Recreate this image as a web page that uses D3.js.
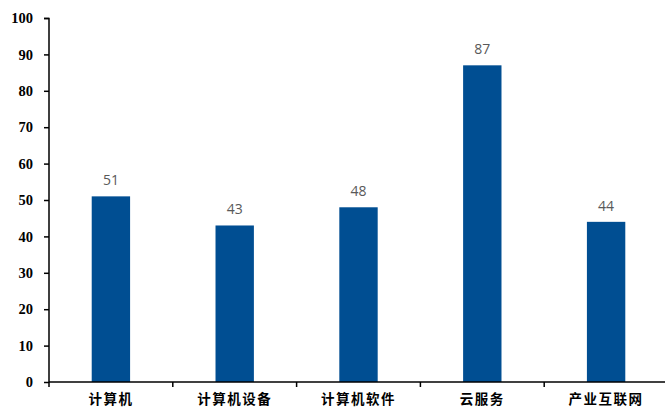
<!DOCTYPE html>
<html>
<head>
<meta charset="utf-8">
<script src="https://cdn.jsdelivr.net/npm/d3@7"></script>
<style>
  body { margin: 0; background: #fff; }
  svg { display: block; }
</style>
</head>
<body>
<div id="chart"></div>
<script>
'use strict';
// Data
var categories = ['计算机', '计算机设备', '计算机软件', '云服务', '产业互联网'];
var values = [51, 43, 48, 87, 44];
var yTicks = [0, 10, 20, 30, 40, 50, 60, 70, 80, 90, 100];

(function() {
	var width = 665, height = 408;
	var margin = {top: 18, right: -3, bottom: 26, left: 49};
	var innerW = width - margin.left - margin.right,
		innerH = height - margin.top - margin.bottom;

	var svg = d3.select('#chart').append('svg')
		.attr('width', width)
		.attr('height', height);

	var g = svg.append('g')
		.attr('transform', 'translate(' + margin.left + ',' + margin.top + ')');

	var x = d3.scaleBand()
		.domain(categories)
		.range([0, innerW])
		.paddingInner(0.69)
		.paddingOuter(0.345);

	var y = d3.scaleLinear()
		.domain([0, 100])
		.range([innerH, 0]);

	//Bars
	g.selectAll('rect.bar')
		.data(values)
		.enter().append('rect')
			.attr('class', 'bar')
			.attr('x', function(d, i) { return x(categories[i]); })
			.attr('y', function(d) { return y(d); })
			.attr('width', x.bandwidth())
			.attr('height', function(d) { return innerH - y(d); })
			.attr('fill', '#004E92');

	//Value labels
	g.selectAll('text.val')
		.data(values)
		.enter().append('text')
			.attr('class', 'val')
			.attr('x', function(d, i) { return x(categories[i]) + x.bandwidth() / 2; })
			.attr('y', function(d) { return y(d) - 11; })
			.attr('text-anchor', 'middle')
			.style('font-family', '"Open Sans", "Liberation Sans", sans-serif')
			.style('font-size', '14px')
			.style('fill', '#595959')
			.text(function(d) { return d; });

	//Y axis
	var yAxis = g.append('g')
		.call(d3.axisLeft(y).tickValues(yTicks).tickSize(5).tickPadding(11));
	yAxis.select('.domain').attr('stroke', '#000').attr('stroke-width', 1.5).attr('d', 'M-5,0.5H0V' + innerH);
	yAxis.selectAll('.tick line').attr('stroke', '#000').attr('stroke-width', 1.5);
	yAxis.selectAll('text')
		.style('font-family', '"Liberation Serif", "Times New Roman", serif')
		.style('font-weight', 'bold')
		.style('font-size', '14.5px')
		.style('fill', '#000');

	//X axis: ticks on band boundaries
	var xAxisG = g.append('g')
		.attr('transform', 'translate(0,' + innerH + ')');
	xAxisG.append('line')
		.attr('x1', 0).attr('x2', innerW)
		.attr('stroke', '#000').attr('stroke-width', 1.5);
	var step = x.step();
	var bounds = d3.range(categories.length + 1).map(function(i) {
		return x(categories[0]) - x.paddingOuter() * step + i * step;
	});
	xAxisG.selectAll('line.tk')
		.data(bounds)
		.enter().append('line')
			.attr('class', 'tk')
			.attr('x1', function(d) { return d; })
			.attr('x2', function(d) { return d; })
			.attr('y1', 0).attr('y2', 5)
			.attr('stroke', '#000').attr('stroke-width', 1.5);
	xAxisG.selectAll('text')
		.data(categories)
		.enter().append('text')
			.attr('x', function(d) { return x(d) + x.bandwidth() / 2; })
			.attr('y', 22)
			.attr('text-anchor', 'middle')
			.style('font-family', '"Noto Sans CJK SC", sans-serif')
			.style('font-weight', 'bold')
			.style('font-size', '13.5px')
			.style('letter-spacing', '1.5px')
			.style('fill', '#000')
			.text(function(d) { return d; });
})();
</script>
</body>
</html>
